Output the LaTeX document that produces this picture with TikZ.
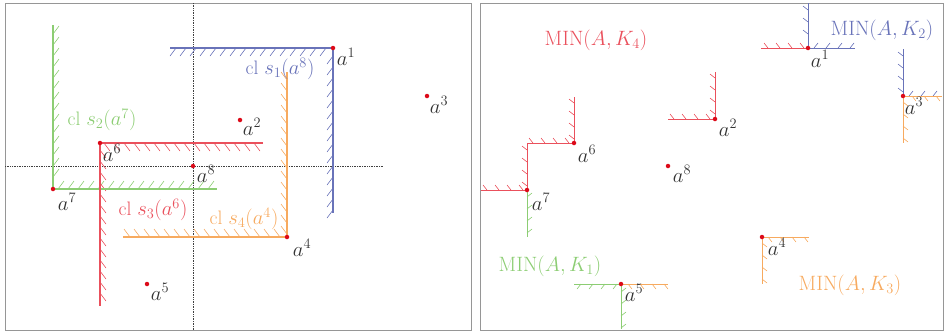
\documentclass[tikz,border=0pt]{standalone}
\definecolor{cred}{RGB}{234,80,92}
\definecolor{cblue}{RGB}{105,115,185}
\definecolor{cgreen}{RGB}{140,205,115}
\definecolor{corange}{RGB}{247,170,95}
\definecolor{cdot}{RGB}{220,10,25}
\definecolor{cframe}{RGB}{150,150,150}
\tikzset{
  seg/.style={line width=1.3pt},
  segr/.style={line width=1pt},
  hat/.style={line width=0.6pt},
  pt/.style={circle, fill=cdot, inner sep=0pt, minimum size=4.5pt},
  lab/.style={inner sep=0pt, text=black!80, font=\fontsize{20}{22}\selectfont},
  captxt/.style={inner sep=0pt, font=\fontsize{19.5}{22}\selectfont},
  panel/.style={draw=cframe, line width=0.9pt},
  guide/.style={densely dotted, line width=0.7pt, black!75}
}
\begin{document}
\begin{tikzpicture}[x=1pt,y=-1pt]
\useasboundingbox (0,0) rectangle (944,333);
\draw[panel] (5,3) rectangle (471,330);
\draw[panel] (480,3) rectangle (943,330);

% ---------- left panel ----------
\coordinate (p1) at (333,48);
\coordinate (p2) at (240,120);
\coordinate (p3) at (427,96);
\coordinate (p4) at (287,237);
\coordinate (p5) at (147,284);
\coordinate (p6) at (100,143);
\coordinate (p7) at (53,189);
\coordinate (p8) at (193,166);
\coordinate (b1) at (170,48);
\coordinate (b2) at (333,213);
\coordinate (g1) at (53,25);
\coordinate (g2) at (217,189);
\coordinate (r1) at (263,143);
\coordinate (r2) at (100,306);
\coordinate (o1) at (123,237);
\coordinate (o2) at (287,72);
\coordinate (dv1) at (193,3);
\coordinate (dv2) at (193,330);
\coordinate (dh1) at (5,166);
\coordinate (dh2) at (383,166);

\draw[guide] (dv1) -- (dv2);
\draw[guide] (dh1) -- (dh2);

% hatching
\foreach \x in {176,186,...,330} \draw[hat,cblue] (\x,48) -- ++(-6,8);
\foreach \y in {56,67,...,210} \draw[hat,cblue] (333,\y) -- ++(-6,8);
\foreach \y in {34,45,...,186} \draw[hat,cgreen] (53,\y) -- ++(6,-8);
\foreach \x in {58,68,...,214} \draw[hat,cgreen] (\x,189) -- ++(6,-8);
\foreach \x in {104,114,...,258} \draw[hat,cred] (\x,143) -- ++(6,8);
\foreach \y in {150,161,...,300} \draw[hat,cred] (100,\y) -- ++(6,8);
\foreach \x in {130,140,...,286} \draw[hat,corange] (\x,237) -- ++(-6,-8);
\foreach \y in {80,91,...,236} \draw[hat,corange] (287,\y) -- ++(-6,-8);

\draw[seg,cblue] (b1) -- (p1) -- (b2);
\draw[seg,cgreen] (g1) -- (p7) -- (g2);
\draw[seg,cred] (r1) -- (p6) -- (r2);
\draw[seg,corange] (o1) -- (p4) -- (o2);

\foreach \i in {1,...,8} \node[pt] (a\i) at (p\i) {};
\foreach \i/\dx/\dy in {1/13/9, 2/12/7, 3/12/9, 4/15/11, 5/13/8, 6/12/10, 7/14/13, 8/13/8}
  \path (p\i) ++(\dx,\dy) node[lab] (la\i) {$a^{\i}$};

\node[captxt,text=cblue] (c1) at (280,69) {cl $s_1(a^8)$};
\node[captxt,text=cgreen] (c2) at (102,120) {cl $s_2(a^7)$};
\node[captxt,text=cred] (c3) at (153,210) {cl $s_3(a^6)$};
\node[captxt,text=corange] (c4) at (244,219) {cl $s_4(a^4)$};

% ---------- right panel ----------
\coordinate (q1) at (808,48);
\coordinate (q2) at (715,119);
\coordinate (q3) at (903,96);
\coordinate (q4) at (762,237);
\coordinate (q5) at (621,284);
\coordinate (q6) at (574,143);
\coordinate (q7) at (527,190);
\coordinate (q8) at (668,166);

\coordinate (e1) at (761,48);
\coordinate (e2) at (808,3);
\coordinate (e3) at (855,48);
\coordinate (e4) at (668,119);
\coordinate (e5) at (715,72);
\coordinate (e6) at (903,49);
\coordinate (e7) at (942,96);
\coordinate (e8) at (903,143);
\coordinate (e9) at (574,97);
\coordinate (e10) at (527,143);
\coordinate (e11) at (481,190);
\coordinate (e12) at (527,237);
\coordinate (e13) at (809,237);
\coordinate (e14) at (762,284);
\coordinate (e15) at (574,284);
\coordinate (e16) at (621,329);
\coordinate (e17) at (668,284);

% ticks
\foreach \x in {768,780,...,804} \draw[hat,cred] (\x,48) -- ++(-4,-5);
\foreach \y in {10,22,...,44} \draw[hat,cblue] (808,\y) -- ++(-5,-4);
\foreach \x in {814,826,...,852} \draw[hat,cblue] (\x,48) -- ++(4,-5);
\foreach \y in {78,90,...,116} \draw[hat,cred] (715,\y) -- ++(-5,-4);
\foreach \x in {674,686,...,712} \draw[hat,cred] (\x,119) -- ++(-4,-5);
\foreach \y in {56,68,...,94} \draw[hat,cblue] (903,\y) -- ++(-5,-4);
\foreach \x in {909,921,...,938} \draw[hat,cblue] (\x,96) -- ++(4,-5);
\foreach \x in {912,924,...,938} \draw[hat,corange] (\x,96) -- ++(4,5);
\foreach \y in {102,114,...,140} \draw[hat,corange] (903,\y) -- ++(5,4);
\foreach \y in {103,115,...,141} \draw[hat,cred] (574,\y) -- ++(-5,-4);
\foreach \x in {533,545,...,571} \draw[hat,cred] (\x,143) -- ++(-4,-5);
\foreach \y in {150,162,...,188} \draw[hat,cred] (527,\y) -- ++(-5,-4);
\foreach \x in {487,499,...,525} \draw[hat,cred] (\x,190) -- ++(-4,-5);
\foreach \y in {197,209,...,235} \draw[hat,cgreen] (527,\y) -- ++(5,-4);
\foreach \x in {768,780,...,806} \draw[hat,corange] (\x,237) -- ++(4,5);
\foreach \y in {243,255,...,281} \draw[hat,corange] (762,\y) -- ++(5,4);
\foreach \x in {581,593,...,617} \draw[hat,cgreen] (\x,284) -- ++(-4,5);
\foreach \y in {292,304,...,328} \draw[hat,cgreen] (621,\y) -- ++(5,-4);
\foreach \x in {628,640,...,664} \draw[hat,corange] (\x,284) -- ++(4,5);

\draw[segr,cred] (e1) -- (q1);
\draw[segr,cblue] (e2) -- (q1) -- (e3);
\draw[segr,cred] (e4) -- (q2) -- (e5);
\draw[segr,cblue] (e6) -- (q3) -- (e7);
\draw[segr,corange] (e7) -- (q3) -- (e8);
\draw[segr,cred] (e9) -- (q6) -- (e10) -- (q7) -- (e11);
\draw[segr,cgreen] (q7) -- (e12);
\draw[segr,corange] (e13) -- (q4) -- (e14);
\draw[segr,cgreen] (e15) -- (q5) -- (e16);
\draw[segr,corange] (q5) -- (e17);

\foreach \i in {1,...,8} \node[pt] (b\i) at (q\i) {};
\foreach \i/\dx/\dy in {1/12/11, 2/13/9, 3/11/10, 4/15/10, 5/13/9, 6/13/11, 7/14/12, 8/14/8}
  \path (q\i) ++(\dx,\dy) node[lab] (lb\i) {$a^{\i}$};

\node[captxt,text=cred] (m4) at (596,40) {$\mathrm{MIN}(A,K_4)$};
\node[captxt,text=cblue] (m2) at (882,30) {$\mathrm{MIN}(A,K_2)$};
\node[captxt,text=cgreen] (m1) at (550,266) {$\mathrm{MIN}(A,K_1)$};
\node[captxt,text=corange] (m3) at (850,285) {$\mathrm{MIN}(A,K_3)$};
\end{tikzpicture}
\end{document}
